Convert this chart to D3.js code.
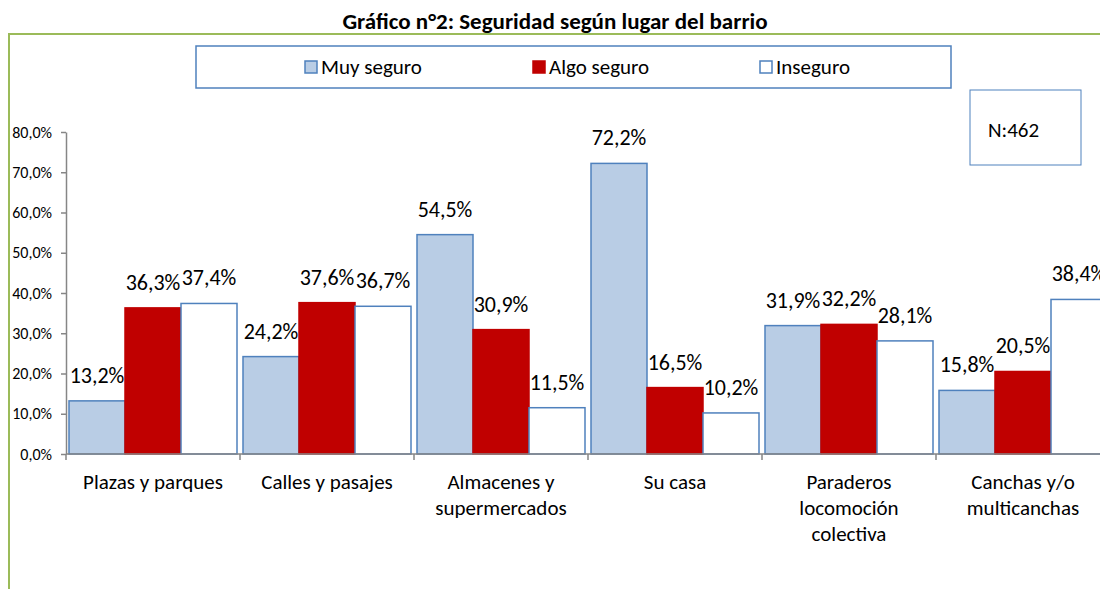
<!DOCTYPE html>
<html>
<head>
<meta charset="utf-8">
<script src="https://cdn.jsdelivr.net/npm/d3@7"></script>
<style>
  body { margin: 0; background: #fff; }
  svg { font-family: Carlito, Lato, "Open Sans", sans-serif; }
</style>
</head>
<body>
<svg id="chart"></svg>
<script>
const categories = [
  ["Plazas y parques"],
  ["Calles y pasajes"],
  ["Almacenes y", "supermercados"],
  ["Su casa"],
  ["Paraderos", "locomoción", "colectiva"],
  ["Canchas y/o", "multicanchas"],
];
const seriesNames = ["Muy seguro", "Algo seguro", "Inseguro"];
const muySeguro = [13.2, 24.2, 54.5, 72.2, 31.9, 15.8];
const algoSeguro = [36.3, 37.6, 30.9, 16.5, 32.2, 20.5];
const inseguro = [37.4, 36.7, 11.5, 10.2, 28.1, 38.4];
const yTicks = [0, 10, 20, 30, 40, 50, 60, 70, 80];
const titleText = "Gráfico n°2: Seguridad según lugar del barrio";
const nText = "N:462";

const fills = ["#B9CDE5", "#C00000", "#FFFFFF"];
const strokes = ["#4F81BD", "#C00000", "#4F81BD"];

const width = 1100, height = 589;
const svg = d3.select("#chart").attr("width", width).attr("height", height);

// outer green frame (runs off right / bottom edge)
svg.append("path")
  .attr("d", `M9,${height + 5} L9,34 L${width + 5},34`)
  .style("fill", "none")
  .style("stroke", "#9BBB59")
  .style("stroke-width", 2);

svg.append("text")
  .attr("x", 555)
  .attr("y", 29)
  .attr("text-anchor", "middle")
  .style("font-size", "23px")
  .style("font-weight", "bold")
  .text(titleText);

const keys = categories.map((c) => c.join(" "));
const data = keys.map((k, i) => ({
  key: k,
  lines: categories[i],
  values: [muySeguro[i], algoSeguro[i], inseguro[i]],
}));

const x0 = d3.scaleBand().domain(keys).range([66, 1110]).paddingInner(0).paddingOuter(0);
const x1 = d3.scaleBand().domain(d3.range(3)).range([3, x0.bandwidth() - 3]);
const y = d3.scaleLinear().domain([0, 80]).range([454, 132]);

// y axis
const yAxis = svg.append("g")
  .attr("transform", "translate(66,0)")
  .call(d3.axisLeft(y).tickValues(yTicks).tickSize(5).tickSizeOuter(0)
    .tickFormat((d) => d3.format(".1f")(d).replace(".", ",") + "%"));
yAxis.select(".domain").style("stroke", "#868686").style("stroke-width", 1.5);
yAxis.selectAll(".tick line").style("stroke", "#868686").style("stroke-width", 1.5);
yAxis.selectAll(".tick text")
  .attr("x", -14)
  .style("font-size", "16px")
  .style("fill", "#000")
  .style("font-family", "Carlito, Lato, sans-serif");

// bars
const groups = svg.selectAll(".cat")
  .data(data)
  .enter()
  .append("g")
  .attr("class", "cat")
  .attr("transform", (d) => `translate(${x0(d.key)},0)`);

groups.selectAll("rect")
  .data((d) => d.values)
  .enter()
  .append("rect")
  .attr("x", (d, i) => x1(i))
  .attr("y", (d) => y(d))
  .attr("width", x1.bandwidth())
  .attr("height", (d) => y(0) - y(d))
  .style("fill", (d, i) => fills[i])
  .style("stroke", (d, i) => strokes[i])
  .style("stroke-width", 1.5);

groups.selectAll(".lbl")
  .data((d) => d.values)
  .enter()
  .append("text")
  .attr("class", "lbl")
  .attr("x", (d, i) => x1(i) + x1.bandwidth() / 2)
  .attr("y", (d) => y(d) - 18)
  .attr("text-anchor", "middle")
  .style("font-size", "22px")
  .text((d) => d3.format(".1f")(d).replace(".", ",") + "%");

// x axis
const xAxis = svg.append("g");
xAxis.append("line")
  .attr("x1", 66).attr("x2", width)
  .attr("y1", y(0)).attr("y2", y(0))
  .style("stroke", "#868686").style("stroke-width", 1.5);
xAxis.selectAll(".xt")
  .data(keys.concat(["end"]))
  .enter()
  .append("line")
  .attr("x1", (d, i) => 66 + i * x0.bandwidth())
  .attr("x2", (d, i) => 66 + i * x0.bandwidth())
  .attr("y1", y(0))
  .attr("y2", y(0) + 6)
  .style("stroke", "#868686").style("stroke-width", 1.5);

const catLabels = xAxis.selectAll(".catLabel")
  .data(data)
  .enter()
  .append("text")
  .attr("class", "catLabel")
  .attr("x", (d) => x0(d.key) + x0.bandwidth() / 2)
  .attr("y", 489)
  .attr("text-anchor", "middle")
  .style("font-size", "21px");
catLabels.selectAll("tspan")
  .data((d) => d.lines)
  .enter()
  .append("tspan")
  .attr("x", function () { return d3.select(this.parentNode).attr("x"); })
  .attr("dy", (d, i) => (i === 0 ? 0 : 26))
  .text((d) => d);

// legend
svg.append("rect")
  .attr("x", 196).attr("y", 46)
  .attr("width", 755).attr("height", 42)
  .style("fill", "#fff")
  .style("stroke", "#4F81BD")
  .style("stroke-width", 1.5);
const legendX = [305, 533, 760];
const legend = svg.selectAll(".leg")
  .data(seriesNames)
  .enter()
  .append("g")
  .attr("class", "leg")
  .attr("transform", (d, i) => `translate(${legendX[i]},61)`);
legend.append("rect")
  .attr("width", 12).attr("height", 12)
  .style("fill", (d, i) => fills[i])
  .style("stroke", (d, i) => strokes[i])
  .style("stroke-width", 1.5);
legend.append("text")
  .attr("x", 16)
  .attr("y", 13)
  .style("font-size", "21px")
  .text((d) => d);

// N box
svg.append("rect")
  .attr("x", 970).attr("y", 90)
  .attr("width", 111).attr("height", 75)
  .style("fill", "#fff")
  .style("stroke", "#4F81BD")
  .style("stroke-width", 1);
svg.append("text")
  .attr("x", 988)
  .attr("y", 137)
  .style("font-size", "21px")
  .text(nText);
</script>
</body>
</html>
